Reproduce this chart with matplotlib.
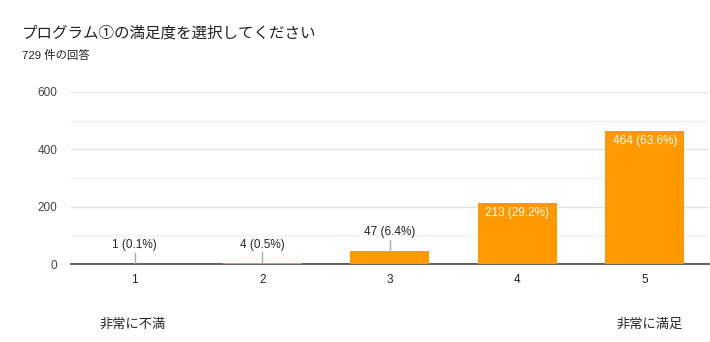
import matplotlib.pyplot as plt
import numpy as np

plt.rcParams['font.family'] = ['Liberation Sans', 'Noto Sans CJK JP', 'DejaVu Sans']

# Survey results
categories = ['1', '2', '3', '4', '5']
counts = [1, 4, 47, 213, 464]
percents = [0.1, 0.5, 6.4, 29.2, 63.6]
title = 'プログラム①の満足度を選択してください'
subtitle = '729 件の回答'
low_label = '非常に不満'
high_label = '非常に満足'

fig = plt.figure(figsize=(7.1, 3.42), dpi=100)
ax = fig.add_axes([0.1, 0.228, 0.898, 0.503])

x = np.arange(len(categories))
ax.bar(x, counts, width=0.62, color='#ff9900', zorder=3)

ax.set_xlim(-0.5, len(categories) - 0.5)
ax.set_ylim(0, 600)
ax.set_yticks([0, 200, 400, 600])
ax.set_yticks([100, 300, 500], minor=True)
ax.grid(axis='y', which='major', color='#e3e3e3', lw=1, zorder=0)
ax.grid(axis='y', which='minor', color='#f2f2f2', lw=1, zorder=0)
ax.tick_params(axis='y', which='both', length=0, labelsize=8.5, labelcolor='#444444', pad=10)
ax.tick_params(axis='x', length=0, labelsize=8.5, labelcolor='#222222', pad=7)
ax.set_xticks(x)
ax.set_xticklabels(categories)
for side in ['top', 'right', 'left']:
    ax.spines[side].set_visible(False)
ax.spines['bottom'].set_color('#555555')
ax.spines['bottom'].set_linewidth(1.3)
ax.spines['bottom'].set_zorder(2)

# value labels: small bars get an outside label with a leader line
leader = 38
for i, (c, p) in enumerate(zip(counts, percents)):
    label = f'{c} ({p}%)'
    if c < 100:
        ax.plot([i, i], [c, c + leader], color='#aaaaaa', lw=1, zorder=4)
        ax.text(i, c + leader + 5, label, ha='center', va='bottom',
                fontsize=8.5, color='#222222')
    else:
        ax.annotate(label, (i, c), xytext=(0, -3), textcoords='offset points',
                    ha='center', va='top', fontsize=8.5, color='white')

fig.text(22 / 710, 1 - 33 / 342, title, fontsize=11.2, color='#202124',
         va='center', ha='left')
fig.text(22 / 710, 1 - 55 / 342, subtitle, fontsize=8.2, color='#202124',
         va='center', ha='left')
fig.text(133 / 710, 1 - 325 / 342, low_label, fontsize=9.5, color='#222222',
         va='center', ha='center')
fig.text(650 / 710, 1 - 325 / 342, high_label, fontsize=9.5, color='#222222',
         va='center', ha='center')

fig.savefig('out.png', dpi=100)
